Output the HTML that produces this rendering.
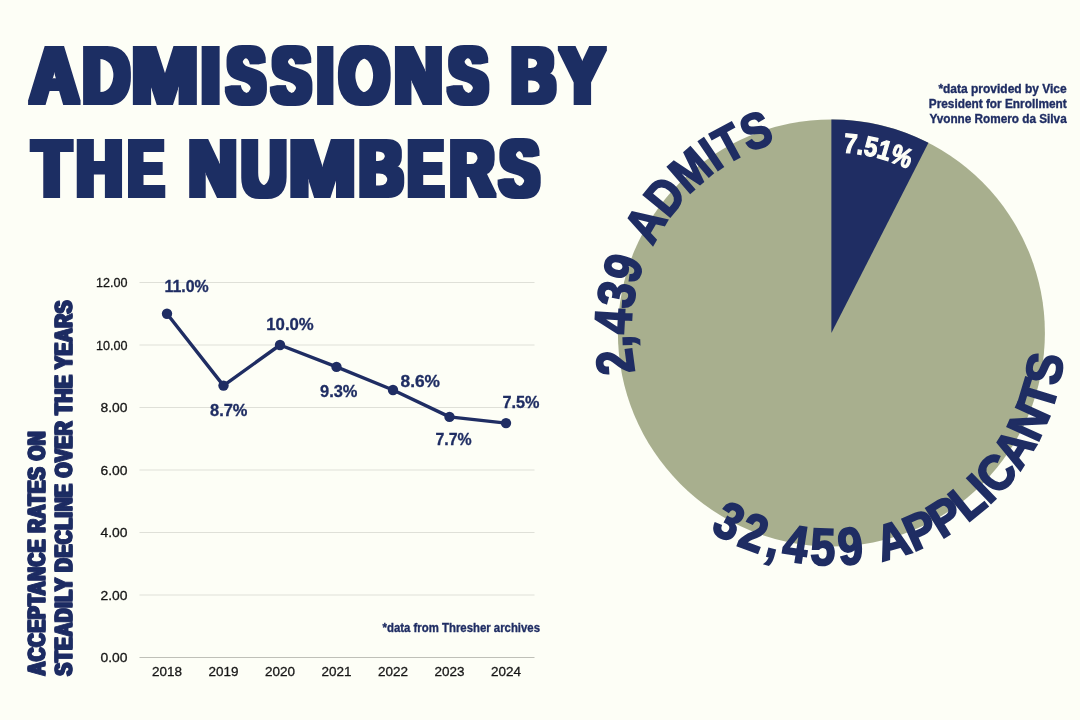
<!DOCTYPE html>
<html lang="en"><head><meta charset="utf-8"><title>Admissions by the numbers</title>
<style>html,body{margin:0;padding:0;background:#fdfef6;}body{width:1080px;height:720px;overflow:hidden;}svg{display:block;}text{font-family:"Liberation Sans",sans-serif;}</style>
</head><body>
<svg width="1080" height="720" viewBox="0 0 1080 720">
<defs>
<filter id="heavy" x="-5%" y="-20%" width="110%" height="140%"><feMorphology operator="dilate" radius="4 2"/></filter>
<filter id="heavy2" x="-20%" y="-5%" width="140%" height="110%"><feOffset in="SourceGraphic" dy="-1" result="a"/><feOffset in="SourceGraphic" dy="1" result="b"/><feMerge><feMergeNode in="a"/><feMergeNode in="b"/><feMergeNode in="SourceGraphic"/></feMerge></filter>
</defs>
<rect width="1080" height="720" fill="#fdfef6"/>
<g filter="url(#heavy)">
<text aria-label="ADMISSIONS BY" y="103.4" font-size="80" font-weight="700" fill="#1f2d63"><tspan x="30.34" textLength="48.22" lengthAdjust="spacingAndGlyphs">A</tspan><tspan x="82.66" textLength="46.87" lengthAdjust="spacingAndGlyphs">D</tspan><tspan x="131.64" textLength="66.72" lengthAdjust="spacingAndGlyphs">M</tspan><tspan x="201.06" textLength="19.29" lengthAdjust="spacingAndGlyphs">I</tspan><tspan x="227.05" textLength="38.19" lengthAdjust="spacingAndGlyphs">S</tspan><tspan x="272.03" textLength="38.74" lengthAdjust="spacingAndGlyphs">S</tspan><tspan x="317.15" textLength="16.01" lengthAdjust="spacingAndGlyphs">I</tspan><tspan x="339.36" textLength="50.15" lengthAdjust="spacingAndGlyphs">O</tspan><tspan x="394.56" textLength="47.91" lengthAdjust="spacingAndGlyphs">N</tspan><tspan x="448.61" textLength="39.19" lengthAdjust="spacingAndGlyphs">S</tspan><tspan x="495.00"> </tspan><tspan x="511.20" textLength="44.29" lengthAdjust="spacingAndGlyphs">B</tspan><tspan x="560.38" textLength="43.67" lengthAdjust="spacingAndGlyphs">Y</tspan></text>
<text aria-label="THE NUMBERS" y="195.6" font-size="80" font-weight="700" fill="#1f2d63"><tspan x="33.01" textLength="37.34" lengthAdjust="spacingAndGlyphs">T</tspan><tspan x="76.46" textLength="45.82" lengthAdjust="spacingAndGlyphs">H</tspan><tspan x="128.51" textLength="34.83" lengthAdjust="spacingAndGlyphs">E</tspan><tspan x="170.00"> </tspan><tspan x="188.75" textLength="48.03" lengthAdjust="spacingAndGlyphs">N</tspan><tspan x="241.56" textLength="44.93" lengthAdjust="spacingAndGlyphs">U</tspan><tspan x="288.95" textLength="66.60" lengthAdjust="spacingAndGlyphs">M</tspan><tspan x="359.14" textLength="43.81" lengthAdjust="spacingAndGlyphs">B</tspan><tspan x="408.32" textLength="34.71" lengthAdjust="spacingAndGlyphs">E</tspan><tspan x="449.92" textLength="44.03" lengthAdjust="spacingAndGlyphs">R</tspan><tspan x="499.80" textLength="39.30" lengthAdjust="spacingAndGlyphs">S</tspan></text>
</g>
<circle cx="831.4" cy="333" r="213.5" fill="#a8af8e"/>
<path d="M 831.4 333 L 831.4 119.5 A 213.5 213.5 0 0 1 928.46 142.84 Z" fill="#1f2d63"/>
<path id="c1" d="M 659.62 436.21 A 200.4 200.4 0 0 1 679.47 202.32" fill="none"/>
<path id="c2" d="M 633.99 312.25 A 198.5 198.5 0 0 1 843.17 134.85" fill="none"/>
<text font-weight="700" fill="#1f2d63" stroke="#1f2d63" stroke-width="2" stroke-linejoin="miter"><textPath href="#c1" startOffset="69.26" font-size="52" textLength="112.37" lengthAdjust="spacingAndGlyphs">2,439</textPath> <textPath href="#c2" startOffset="69.08" font-size="50" textLength="165.25" lengthAdjust="spacingAndGlyphs">ADMITS</textPath></text>
<path id="c3" d="M 649.83 477.42 A 232 232 0 0 0 940.32 537.84" fill="none"/>
<path id="c4" d="M 800.95 564.30 A 233.3 233.3 0 0 0 1057.77 276.56" fill="none"/>
<text font-weight="700" fill="#1f2d63" stroke="#1f2d63" stroke-width="2" stroke-linejoin="miter"><textPath href="#c3" startOffset="80.82" font-size="52" letter-spacing="5.611" textLength="165.73" lengthAdjust="spacingAndGlyphs">32,459</textPath> <textPath href="#c4" startOffset="81.21" font-size="50" textLength="292.23" lengthAdjust="spacingAndGlyphs">APPLICANTS</textPath></text>
<path id="c5" d="M 780.90 159.19 A 181 181 0 0 1 959.39 205.01" fill="none"/>
<text font-weight="700" fill="#fdfef6" stroke="#fdfef6" stroke-width="1.2" stroke-linejoin="miter"><textPath href="#c5" startOffset="62.68" font-size="27.3" textLength="67.58" lengthAdjust="spacingAndGlyphs">7.51%</textPath></text>
<text x="938.40" y="93.40" font-size="12.6" font-weight="700" fill="#1f2d63" text-anchor="start" textLength="128.30" lengthAdjust="spacingAndGlyphs" stroke="#1f2d63" stroke-width="0.35">*data provided by Vice</text>
<text x="928.80" y="108.10" font-size="12.6" font-weight="700" fill="#1f2d63" text-anchor="start" textLength="137.90" lengthAdjust="spacingAndGlyphs" stroke="#1f2d63" stroke-width="0.35">President for Enrollment</text>
<text x="929.50" y="122.90" font-size="12.6" font-weight="700" fill="#1f2d63" text-anchor="start" textLength="137.20" lengthAdjust="spacingAndGlyphs" stroke="#1f2d63" stroke-width="0.35">Yvonne Romero da Silva</text>
<line x1="139.5" x2="534.5" y1="595.00" y2="595.00" stroke="#dfe0d8" stroke-width="1"/>
<line x1="139.5" x2="534.5" y1="532.50" y2="532.50" stroke="#dfe0d8" stroke-width="1"/>
<line x1="139.5" x2="534.5" y1="470.00" y2="470.00" stroke="#dfe0d8" stroke-width="1"/>
<line x1="139.5" x2="534.5" y1="407.50" y2="407.50" stroke="#dfe0d8" stroke-width="1"/>
<line x1="139.5" x2="534.5" y1="345.00" y2="345.00" stroke="#dfe0d8" stroke-width="1"/>
<line x1="139.5" x2="534.5" y1="282.50" y2="282.50" stroke="#dfe0d8" stroke-width="1"/>
<line x1="139.5" x2="534.5" y1="657.50" y2="657.50" stroke="#bfc0b8" stroke-width="1"/>
<text x="127.50" y="662.30" font-size="13.6" font-weight="400" fill="#161616" text-anchor="end" textLength="27.00" lengthAdjust="spacingAndGlyphs" stroke="#161616" stroke-width="0.3">0.00</text>
<text x="127.50" y="599.80" font-size="13.6" font-weight="400" fill="#161616" text-anchor="end" textLength="27.00" lengthAdjust="spacingAndGlyphs" stroke="#161616" stroke-width="0.3">2.00</text>
<text x="127.50" y="537.30" font-size="13.6" font-weight="400" fill="#161616" text-anchor="end" textLength="27.00" lengthAdjust="spacingAndGlyphs" stroke="#161616" stroke-width="0.3">4.00</text>
<text x="127.50" y="474.80" font-size="13.6" font-weight="400" fill="#161616" text-anchor="end" textLength="27.00" lengthAdjust="spacingAndGlyphs" stroke="#161616" stroke-width="0.3">6.00</text>
<text x="127.50" y="412.30" font-size="13.6" font-weight="400" fill="#161616" text-anchor="end" textLength="27.00" lengthAdjust="spacingAndGlyphs" stroke="#161616" stroke-width="0.3">8.00</text>
<text x="127.50" y="349.80" font-size="13.6" font-weight="400" fill="#161616" text-anchor="end" textLength="31.50" lengthAdjust="spacingAndGlyphs" stroke="#161616" stroke-width="0.3">10.00</text>
<text x="127.50" y="287.30" font-size="13.6" font-weight="400" fill="#161616" text-anchor="end" textLength="31.50" lengthAdjust="spacingAndGlyphs" stroke="#161616" stroke-width="0.3">12.00</text>
<polyline points="167.00,313.75 223.50,385.62 280.00,345.00 336.50,366.88 393.00,390.00 449.50,416.88 506.00,423.12" fill="none" stroke="#1f2d63" stroke-width="3.4" stroke-linejoin="round"/>
<circle cx="167.00" cy="313.75" r="5.2" fill="#1f2d63"/>
<circle cx="223.50" cy="385.62" r="5.2" fill="#1f2d63"/>
<circle cx="280.00" cy="345.00" r="5.2" fill="#1f2d63"/>
<circle cx="336.50" cy="366.88" r="5.2" fill="#1f2d63"/>
<circle cx="393.00" cy="390.00" r="5.2" fill="#1f2d63"/>
<circle cx="449.50" cy="416.88" r="5.2" fill="#1f2d63"/>
<circle cx="506.00" cy="423.12" r="5.2" fill="#1f2d63"/>
<text x="167.00" y="676.40" font-size="13.6" font-weight="400" fill="#161616" text-anchor="middle" textLength="30.00" lengthAdjust="spacingAndGlyphs" stroke="#161616" stroke-width="0.3">2018</text>
<text x="223.50" y="676.40" font-size="13.6" font-weight="400" fill="#161616" text-anchor="middle" textLength="30.00" lengthAdjust="spacingAndGlyphs" stroke="#161616" stroke-width="0.3">2019</text>
<text x="280.00" y="676.40" font-size="13.6" font-weight="400" fill="#161616" text-anchor="middle" textLength="30.00" lengthAdjust="spacingAndGlyphs" stroke="#161616" stroke-width="0.3">2020</text>
<text x="336.50" y="676.40" font-size="13.6" font-weight="400" fill="#161616" text-anchor="middle" textLength="30.00" lengthAdjust="spacingAndGlyphs" stroke="#161616" stroke-width="0.3">2021</text>
<text x="393.00" y="676.40" font-size="13.6" font-weight="400" fill="#161616" text-anchor="middle" textLength="30.00" lengthAdjust="spacingAndGlyphs" stroke="#161616" stroke-width="0.3">2022</text>
<text x="449.50" y="676.40" font-size="13.6" font-weight="400" fill="#161616" text-anchor="middle" textLength="30.00" lengthAdjust="spacingAndGlyphs" stroke="#161616" stroke-width="0.3">2023</text>
<text x="506.00" y="676.40" font-size="13.6" font-weight="400" fill="#161616" text-anchor="middle" textLength="30.00" lengthAdjust="spacingAndGlyphs" stroke="#161616" stroke-width="0.3">2024</text>
<text x="164.50" y="292.00" font-size="16.6" font-weight="700" fill="#1f2d63" text-anchor="start" textLength="44.25" lengthAdjust="spacingAndGlyphs" stroke="#1f2d63" stroke-width="0.3">11.0%</text>
<text x="210.00" y="415.50" font-size="16.6" font-weight="700" fill="#1f2d63" text-anchor="start" textLength="37.50" lengthAdjust="spacingAndGlyphs" stroke="#1f2d63" stroke-width="0.3">8.7%</text>
<text x="266.25" y="329.50" font-size="16.6" font-weight="700" fill="#1f2d63" text-anchor="start" textLength="47.50" lengthAdjust="spacingAndGlyphs" stroke="#1f2d63" stroke-width="0.3">10.0%</text>
<text x="320.00" y="397.00" font-size="16.6" font-weight="700" fill="#1f2d63" text-anchor="start" textLength="37.50" lengthAdjust="spacingAndGlyphs" stroke="#1f2d63" stroke-width="0.3">9.3%</text>
<text x="400.50" y="386.50" font-size="16.6" font-weight="700" fill="#1f2d63" text-anchor="start" textLength="39.50" lengthAdjust="spacingAndGlyphs" stroke="#1f2d63" stroke-width="0.3">8.6%</text>
<text x="435.50" y="445.00" font-size="16.6" font-weight="700" fill="#1f2d63" text-anchor="start" textLength="36.25" lengthAdjust="spacingAndGlyphs" stroke="#1f2d63" stroke-width="0.3">7.7%</text>
<text x="502.50" y="408.25" font-size="16.6" font-weight="700" fill="#1f2d63" text-anchor="start" textLength="37.00" lengthAdjust="spacingAndGlyphs" stroke="#1f2d63" stroke-width="0.3">7.5%</text>
<text x="382.60" y="632.40" font-size="13.2" font-weight="700" fill="#1f2d63" text-anchor="start" textLength="157.40" lengthAdjust="spacingAndGlyphs" stroke="#1f2d63" stroke-width="0.35">*data from Thresher archives</text>
<g filter="url(#heavy2)"><text transform="translate(44.75 675.34) rotate(-90)" font-size="24.1" font-weight="700" fill="#1f2d63" stroke="#1f2d63" stroke-width="1.1" letter-spacing="1.2" textLength="244.67" lengthAdjust="spacingAndGlyphs">ACCEPTANCE RATES ON</text></g>
<g filter="url(#heavy2)"><text transform="translate(71.85 675.41) rotate(-90)" font-size="24.1" font-weight="700" fill="#1f2d63" stroke="#1f2d63" stroke-width="1.1" letter-spacing="1.2" textLength="375.63" lengthAdjust="spacingAndGlyphs">STEADILY DECLINE OVER THE YEARS</text></g>
</svg></body></html>
